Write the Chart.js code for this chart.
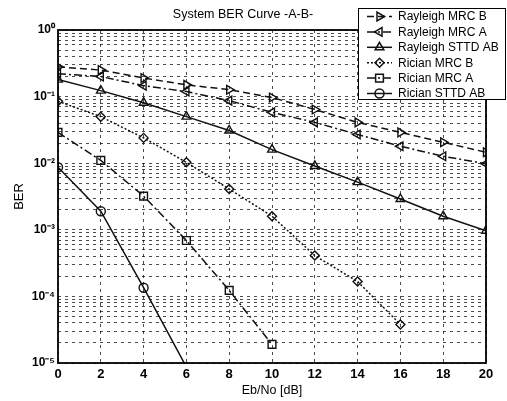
<!DOCTYPE html>
<html>
<head>
<meta charset="utf-8">
<script src="https://cdn.jsdelivr.net/npm/chart.js@4/dist/chart.umd.min.js"></script>
<style>
  html, body { margin: 0; padding: 0; background: #fff; }
</style>
</head>
<body>
<canvas id="myChart" width="507" height="401"></canvas>
<script>
// Eb/No points (dB)
var snr = [0, 2, 4, 6, 8, 10, 12, 14, 16, 18, 20];

// BER values
var rayleighMrcB = [0.28, 0.25, 0.19, 0.15, 0.127, 0.097, 0.064, 0.041, 0.029, 0.0206, 0.0146];
var rayleighMrcA = [0.22, 0.20, 0.146, 0.119, 0.087, 0.058, 0.041, 0.027, 0.018, 0.0127, 0.0098];
var rayleighSttd = [0.18, 0.123, 0.081, 0.05, 0.031, 0.016, 0.0091, 0.0052, 0.0029, 0.0016, 0.00097];
var ricianMrcB = [0.085, 0.05, 0.024, 0.0103, 0.0041, 0.0016, 0.00041, 0.000167, 0.000038];
var ricianMrcA = [0.029, 0.011, 0.0032, 0.00069, 0.000123, 0.000019];
var ricianSttd = [0.0087, 0.0019, 0.000135, 0.0000087];

var seriesNames = ["Rayleigh MRC B", "Rayleigh MRC A", "Rayleigh STTD AB", "Rician MRC B", "Rician MRC A", "Rician STTD AB"];

// axis ticks
var xTicks = [0, 2, 4, 6, 8, 10, 12, 14, 16, 18, 20];
var decades = [1e-5, 1e-4, 1e-3, 1e-2, 1e-1, 1];
var yMin = 1e-5, yMax = 1;

var yTicks = [];
decades.forEach(function (d) {
    for (var m = 1; m <= 9; m++) {
        var v = d * m;
        if (v <= yMax + 1e-12) yTicks.push(v);
    }
});

function pts(arr) {
    return arr.map(function (y, i) { return { x: snr[i], y: y }; });
}

var supDigits = { "0": "\u2070", "1": "\u00b9", "2": "\u00b2", "3": "\u00b3", "4": "\u2074", "5": "\u2075", "6": "\u2076", "7": "\u2077", "8": "\u2078", "9": "\u2079", "-": "\u207b" };
function sup(n) {
    return String(n).split("").map(function (c) { return supDigits[c]; }).join("");
}

Chart.defaults.font.family = '"Liberation Sans", Arial, sans-serif';
Chart.defaults.color = "#000";

var ink = "#111";
function hideBelow(r) {
    return function (ctx) { return ctx.raw && ctx.raw.y < yMin ? 0 : r; };
}

var datasets = [
    { label: seriesNames[0], data: pts(rayleighMrcB), borderDash: [7, 4], pointStyle: "triangle", rotation: 90, pointRadius: 5 },
    { label: seriesNames[1], data: pts(rayleighMrcA), borderDash: [8, 3, 2, 3], pointStyle: "triangle", rotation: -90, pointRadius: 5 },
    { label: seriesNames[2], data: pts(rayleighSttd), borderDash: [], pointStyle: "triangle", rotation: 0, pointRadius: 5 },
    { label: seriesNames[3], data: pts(ricianMrcB), borderDash: [2, 2], pointStyle: "rectRot", rotation: 0, pointRadius: 4.5 },
    { label: seriesNames[4], data: pts(ricianMrcA), borderDash: [8, 3, 2, 3], pointStyle: "rect", rotation: 0, pointRadius: 5.5 },
    { label: seriesNames[5], data: pts(ricianSttd), borderDash: [], pointStyle: "circle", rotation: 0, pointRadius: hideBelow(4.5) }
];
datasets.forEach(function (d) {
    d.borderColor = ink;
    d.borderWidth = 1.5;
    d.backgroundColor = "rgba(0,0,0,0)";
    d.pointBorderColor = ink;
    d.pointBackgroundColor = "rgba(0,0,0,0)";
    d.pointBorderWidth = 1.4;
    d.pointHoverRadius = d.pointRadius;
    d.tension = 0;
    d.fill = false;
});

// box around the plot and the MATLAB style legend
var framePlugin = {
    id: "frameAndLegend",
    afterDraw: function (chart) {
        var ctx = chart.ctx, a = chart.chartArea;
        ctx.save();
        ctx.strokeStyle = "#000";
        ctx.lineWidth = 1.8;
        ctx.setLineDash([]);
        ctx.strokeRect(a.left, a.top, a.right - a.left, a.bottom - a.top);

        // legend
        var bx = 358.5, by = 8.5, bw = 147, bh = 91;
        ctx.fillStyle = "#fff";
        ctx.fillRect(bx, by, bw, bh);
        ctx.lineWidth = 1;
        ctx.strokeRect(bx, by, bw, bh);
        ctx.font = '12px "Liberation Sans", Arial, sans-serif';
        ctx.textBaseline = "middle";
        ctx.textAlign = "left";
        chart.data.datasets.forEach(function (d, i) {
            var y = 16.5 + i * 15.4;
            ctx.strokeStyle = ink;
            ctx.lineWidth = 1.5;
            ctx.setLineDash(d.borderDash);
            ctx.beginPath();
            ctx.moveTo(367, y);
            ctx.lineTo(392, y);
            ctx.stroke();
            ctx.setLineDash([]);
            ctx.fillStyle = "rgba(0,0,0,0)";
            var r = typeof d.pointRadius === "function" ? 4.5 : d.pointRadius;
            Chart.helpers.drawPoint(ctx, { pointStyle: d.pointStyle, rotation: d.rotation, radius: r, borderWidth: 1.4 }, 379.5, y);
            ctx.fillStyle = "#000";
            ctx.fillText(d.label, 398, y + 0.5);
        });
        ctx.restore();
    }
};

window.myChart = new Chart("myChart", {
    type: "line",
    data: { datasets: datasets },
    options: {
        responsive: false,
        animation: false,
        devicePixelRatio: 1,
        layout: { padding: { top: 0, right: 21, bottom: 3, left: 0 } },
        plugins: {
            legend: { display: false },
            tooltip: { enabled: false },
            title: {
                display: true,
                text: "System BER Curve -A-B-",
                color: "#000",
                font: { size: 12.5, weight: "normal" },
                padding: { top: 7.5, bottom: 7.5 }
            }
        },
        scales: {
            x: {
                type: "linear",
                min: 0,
                max: 20,
                afterBuildTicks: function (scale) {
                    scale.ticks = xTicks.map(function (v) { return { value: v }; });
                },
                afterFit: function (scale) { scale.height = 35; },
                grid: { color: "rgba(0,0,0,0.7)", lineWidth: 1, drawTicks: false },
                border: { display: false, dash: [3, 4] },
                ticks: { padding: 4, color: "#000", font: { size: 13, weight: "bold" }, maxRotation: 0 },
                title: {
                    display: true,
                    text: "Eb/No [dB]",
                    color: "#000",
                    font: { size: 12.5 },
                    padding: { top: 1, bottom: 0 }
                }
            },
            y: {
                type: "logarithmic",
                min: yMin,
                max: yMax,
                afterBuildTicks: function (scale) {
                    scale.ticks = yTicks.map(function (v) { return { value: v }; });
                },
                afterFit: function (scale) { scale.width = 58; },
                grid: { color: "rgba(0,0,0,0.7)", lineWidth: 1, drawTicks: false },
                border: { display: false, dash: [3, 4] },
                ticks: {
                    autoSkip: false,
                    padding: 3,
                    color: "#000",
                    font: { size: 12, weight: "bold" },
                    callback: function (v) {
                        var lg = Math.log10(v);
                        var e = Math.round(lg);
                        if (Math.abs(lg - e) > 1e-6) return "";
                        return "10" + sup(e);
                    }
                },
                title: {
                    display: true,
                    text: "BER",
                    color: "#000",
                    font: { size: 13 },
                    padding: { top: 12, bottom: 0 }
                }
            }
        }
    },
    plugins: [framePlugin]
});
</script>
</body>
</html>
